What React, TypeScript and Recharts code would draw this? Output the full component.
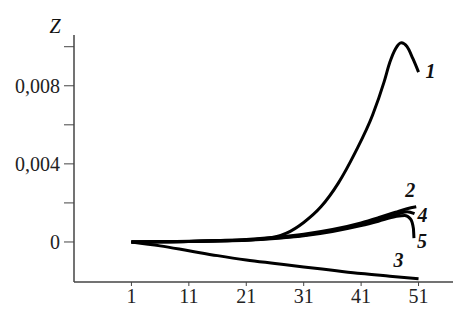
import { Line, LineChart, XAxis, YAxis } from "recharts";

const xTicks = [1, 11, 21, 31, 41, 51];
const yTicks = [0, 0.002, 0.004, 0.006, 0.008, 0.01];
const yLabelled = [0, 0.004, 0.008];

const x1 = [1, 11, 21, 26, 28, 31, 34, 37, 40, 43, 45, 46, 47, 48, 49, 50, 51];
const z1 = [0, 0.00003, 0.0001, 0.00025, 0.00045, 0.001, 0.0018, 0.003, 0.0046, 0.0065, 0.0082, 0.0092, 0.0099, 0.0102, 0.01, 0.0094, 0.0087];

const x2 = [1, 6, 11, 16, 21, 26, 31, 36, 41, 44, 47, 49, 50.6];
const z2 = [0, 0.00002, 0.00004, 0.00008, 0.00013, 0.00024, 0.0004, 0.00064, 0.00098, 0.00124, 0.00152, 0.0017, 0.0018];

const x3 = [1, 6, 11, 16, 21, 26, 31, 36, 41, 46, 51];
const z3 = [0, -0.0002, -0.00045, -0.0007, -0.00092, -0.0011, -0.00128, -0.00145, -0.00162, -0.00175, -0.00188];

const x4 = [1, 6, 11, 16, 21, 26, 31, 36, 41, 44, 47, 49, 50.3];
const z4 = [0, 0.00001, 0.00003, 0.00006, 0.0001, 0.0002, 0.00035, 0.00058, 0.0009, 0.00114, 0.0014, 0.00155, 0.00145];

const x5 = [1, 6, 11, 16, 21, 26, 31, 36, 41, 44, 47, 48.6, 49.6, 50.1, 50.2];
const z5 = [0, 0, 0.00002, 0.00005, 0.00009, 0.00018, 0.00032, 0.00054, 0.00084, 0.00106, 0.0013, 0.00136, 0.00118, 0.0007, 0.0002];

const series = [
  { name: "1", xs: x1, zs: z1, dx: 12, dy: 6 },
  { name: "2", xs: x2, zs: z2, dx: -6, dy: -10 },
  { name: "3", xs: x3, zs: z3, dx: -20, dy: -12 },
  { name: "4", xs: x4, zs: z4, dx: 8, dy: 8 },
  { name: "5", xs: x5, zs: z5, dx: 8, dy: 10 },
];

const fmt = (v: number) =>
  yLabelled.some((t) => Math.abs(t - v) < 1e-9) ? (v === 0 ? "0" : v.toFixed(3).replace(".", ",")) : "";

export default function App() {
  return (
    <div style={{ position: "absolute", left: 0, top: 0, background: "#fff" }}>
      <LineChart width={457} height={309} margin={{ top: 35, right: 4, bottom: 0, left: 0 }}>
        <XAxis
          type="number"
          dataKey="x"
          height={27}
          domain={[-9, 57]}
          ticks={xTicks}
          allowDuplicatedCategory={false}
          tick={{ fontSize: 20, fill: "#222", fontFamily: "Liberation Serif" }}
          tickSize={4}
          tickMargin={3}
          axisLine={{ stroke: "#444", strokeWidth: 1.5 }}
          tickLine={{ stroke: "#444" }}
        />
        <YAxis
          type="number"
          width={74}
          domain={[-0.00205, 0.0106]}
          ticks={yTicks}
          tickFormatter={fmt}
          tick={{ fontSize: 20, fill: "#222", fontFamily: "Liberation Serif" }}
          tickSize={10}
          tickMargin={4}
          axisLine={{ stroke: "#444", strokeWidth: 1.5 }}
          tickLine={{ stroke: "#444" }}
        />
        {series.map((s) => {
          const data = s.xs.map((x, i) => ({ x, z: s.zs[i] }));
          const last = data.length - 1;
          return (
            <Line
              key={s.name}
              data={data}
              dataKey="z"
              type="monotone"
              stroke="#000"
              strokeWidth={3}
              dot={false}
              isAnimationActive={false}
              label={(p: any) =>
                p.index === last ? (
                  <text
                    key={s.name}
                    x={p.x + s.dx}
                    y={p.y + s.dy}
                    textAnchor="middle"
                    fontFamily="Liberation Serif"
                    fontStyle="italic"
                    fontWeight="bold"
                    fontSize={20}
                    fill="#111"
                  >
                    {s.name}
                  </text>
                ) : (
                  <g key={p.index} />
                )
              }
            />
          );
        })}
        <text x={55} y={33} textAnchor="middle" fontFamily="Liberation Serif" fontStyle="italic" fontSize={20} fill="#111">
          Z
        </text>
      </LineChart>
    </div>
  );
}
